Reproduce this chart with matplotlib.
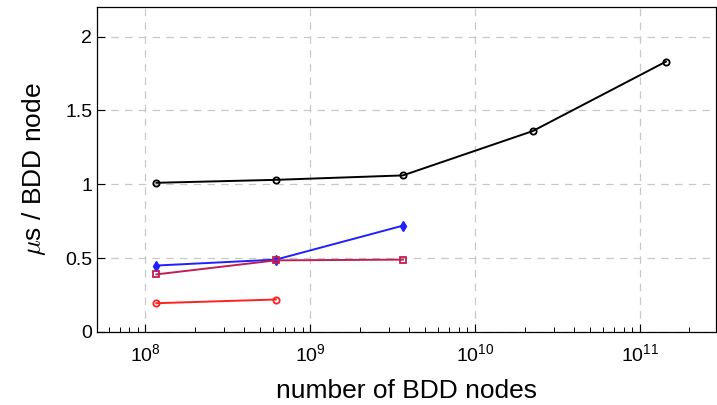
import matplotlib.pyplot as plt
from matplotlib.ticker import LogLocator, NullFormatter

# Values (x: BDD node count, y: microseconds per node)
black_x = [1.17e8, 6.2e8, 3.66e9, 2.24e10, 1.44e11]
black_y = [1.01, 1.03, 1.06, 1.36, 1.83]

blue_x = [1.17e8, 6.2e8, 3.66e9]
blue_y = [0.45, 0.49, 0.72]

purple_x = [1.17e8, 6.2e8, 3.66e9]
purple_y = [0.39, 0.485, 0.49]

red_x = [1.17e8, 6.2e8]
red_y = [0.195, 0.22]

y_ticks = [0, 0.5, 1, 1.5, 2]
y_ticklabels = ["0", "0.5", "1", "1.5", "2"]

plt.rcParams["font.family"] = ["Liberation Sans", "DejaVu Sans"]
plt.rcParams["mathtext.fontset"] = "cm"

fig = plt.figure(figsize=(7.17, 4.05), dpi=100)
ax = fig.add_axes([97 / 717, 73 / 405, 619 / 717, 325 / 405])

ax.plot(black_x, black_y, color="black", lw=1.4, marker="o", ms=4.5,
        mfc="none", mew=1.3)
ax.plot(blue_x, blue_y, color="#2020ff", lw=1.4, marker="d", ms=5, mew=1)
ax.plot(purple_x, purple_y, color="#bf1f55", lw=1.4, marker="s", ms=4.5,
        mfc="none", mew=1.3)
ax.plot(red_x, red_y, color="#ff2020", lw=1.4, marker="o", ms=4.5,
        mfc="none", mew=1.3)

ax.set_xscale("log")
ax.set_xlim(5.1e7, 2.9e11)
ax.set_ylim(0, 2.2)
ax.set_yticks(y_ticks)
ax.set_yticklabels(y_ticklabels)
ax.xaxis.set_major_locator(LogLocator(base=10, numticks=10))
ax.xaxis.set_minor_locator(LogLocator(base=10, subs=range(2, 10), numticks=20))
ax.xaxis.set_minor_formatter(NullFormatter())

ax.grid(True, which="major", color="#c8c8c8", linestyle=(0, (6, 5)), lw=0.9)
ax.tick_params(which="both", direction="in", labelsize=14, top=False, right=False)
ax.tick_params(which="major", length=6, width=0.8)
ax.tick_params(which="minor", length=3.5, width=0.7)
ax.tick_params(axis="x", pad=8)

for s in ax.spines.values():
    s.set_linewidth(0.9)

ax.set_xlabel("number of BDD nodes", fontsize=19, labelpad=10)
ax.set_ylabel(r"$\mu$s / BDD node", fontsize=19, labelpad=12)

fig.savefig("out.png", dpi=100)
